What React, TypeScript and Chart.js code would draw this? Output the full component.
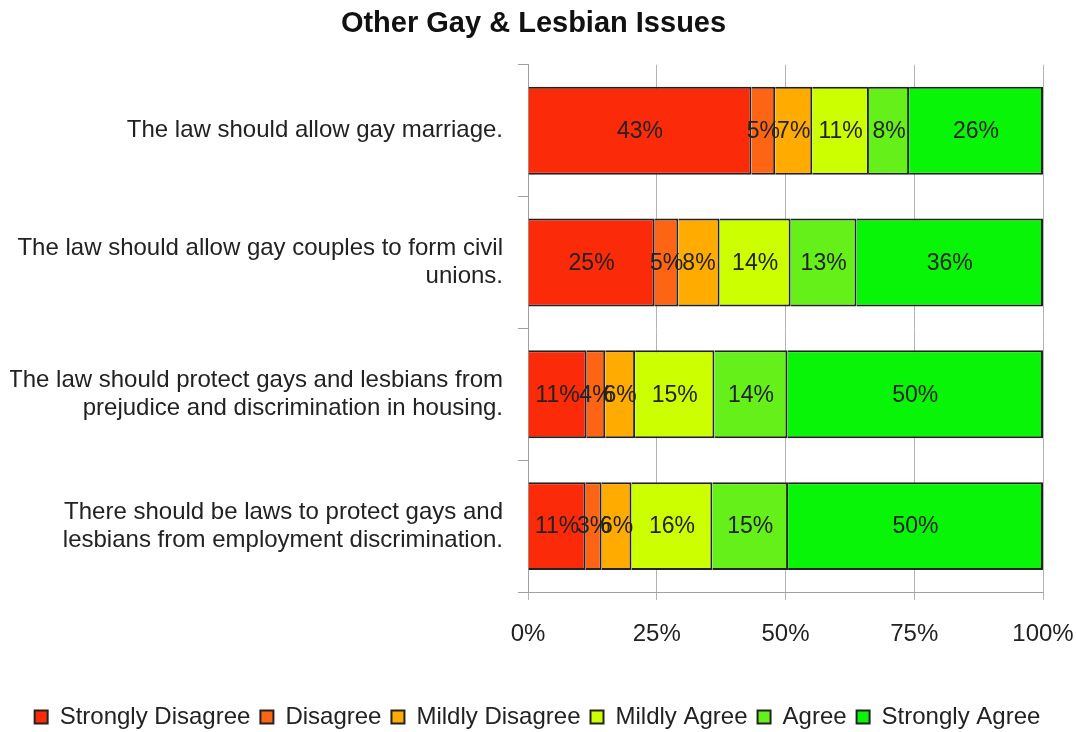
import React, { useEffect, useRef } from "react";
import { Chart, registerables } from "chart.js";

Chart.register(...registerables);

const titleText = "Other Gay & Lesbian Issues";

const categories: (string | string[])[] = [
  "The law should allow gay marriage.",
  ["The law should allow gay couples to form civil", "unions."],
  ["The law should protect gays and lesbians from", "prejudice and discrimination in housing."],
  ["There should be laws to protect gays and", "lesbians from employment discrimination."],
];

const seriesNames = [
  "Strongly Disagree",
  "Disagree",
  "Mildly Disagree",
  "Mildly Agree",
  "Agree",
  "Strongly Agree",
];

const stronglyDisagree = [43.4, 24.6, 11.4, 11.2];
const disagree = [4.6, 4.6, 3.6, 3.1];
const mildlyDisagree = [7.2, 8.0, 5.8, 5.8];
const mildlyAgree = [11.0, 13.8, 15.4, 15.7];
const agree = [7.8, 12.8, 14.2, 14.7];
const stronglyAgree = [26.0, 36.2, 49.6, 49.5];

const seriesValues = [stronglyDisagree, disagree, mildlyDisagree, mildlyAgree, agree, stronglyAgree];
const seriesColors = ["#fb2a08", "#fd6414", "#ffab00", "#ccff00", "#66f01a", "#08f508"];

const xTicks = [0, 25, 50, 75, 100];

const FONT = "'Liberation Sans', Arial, Helvetica, sans-serif";

const valueLabelPlugin = {
  id: "valueLabels",
  afterDatasetsDraw(chart: any) {
    const ctx = chart.ctx;
    ctx.save();
    ctx.font = `23px ${FONT}`;
    ctx.fillStyle = "#222";
    ctx.textAlign = "center";
    ctx.textBaseline = "middle";
    chart.data.datasets.forEach((ds: any, di: number) => {
      const meta = chart.getDatasetMeta(di);
      meta.data.forEach((bar: any, i: number) => {
        const v = ds.data[i];
        const cx = (bar.x + bar.base) / 2;
        ctx.fillText(Math.round(v) + "%", cx, bar.y + 1);
      });
    });
    ctx.restore();
  },
};

// nudges the centred title and legend to sit where they do in the reference
const boxShiftPlugin = {
  id: "boxShift",
  afterLayout(chart: any) {
    const lg = chart.legend;
    if (lg) {
      lg.left += 11;
      lg.right += 11;
    }
    const tt = chart.titleBlock;
    if (tt) {
      tt.left += 7;
      tt.right += 7;
    }
  },
};

export default function App() {
  const canvasRef = useRef<HTMLCanvasElement>(null);

  useEffect(() => {
    if (!canvasRef.current) return;
    Chart.defaults.font.family = FONT;
    Chart.defaults.color = "#222";
    const chart = new Chart(canvasRef.current, {
      type: "bar",
      data: {
        labels: categories,
        datasets: seriesNames.map((name, i) => ({
          label: name,
          data: seriesValues[i],
          backgroundColor: seriesColors[i],
          borderColor: "#222",
          borderWidth: 2,
          barPercentage: 0.667,
          categoryPercentage: 1,
        })),
      },
      options: {
        indexAxis: "y",
        responsive: false,
        animation: false,
        layout: { padding: { left: 10, right: 33, top: 0, bottom: -7 } },
        plugins: {
          title: {
            display: true,
            text: titleText,
            font: { size: 29, weight: "bold", family: FONT },
            color: "#111",
            padding: { top: 7, bottom: 23 },
          },
          legend: {
            position: "bottom",
            labels: {
              font: { size: 24, family: FONT },
              boxWidth: 13,
              boxHeight: 13,
              padding: 10,
              color: "#222",
            },
          },
          tooltip: { enabled: false },
        },
        scales: {
          x: {
            stacked: true,
            min: 0,
            max: 100,
            afterBuildTicks(scale: any) {
              scale.ticks = xTicks.map((v) => ({ value: v }));
            },
            ticks: {
              callback: (v: any) => v + "%",
              font: { size: 24, family: FONT },
              color: "#222",
              padding: 20,
              maxRotation: 0,
            },
            grid: { color: "#b4b4b4", lineWidth: 1, tickLength: 8 },
            border: { display: true, color: "#a0a0a0" },
            afterFit(scale: any) {
              scale.height = 103;
              scale.paddingLeft = 0;
              scale.paddingRight = 0;
            },
          },
          y: {
            stacked: true,
            ticks: {
              font: { size: 24, family: FONT, lineHeight: 1.15 },
              color: "#222",
              padding: 15,
              crossAlign: "near",
            },
            grid: { drawOnChartArea: false, drawTicks: true, tickLength: 10, color: "#a0a0a0" },
            border: { display: true, color: "#a0a0a0" },
            afterFit(scale: any) {
              scale.width = 518;
            },
          },
        },
      },
      plugins: [valueLabelPlugin, boxShiftPlugin],
    } as any);
    return () => chart.destroy();
  }, []);

  return (
    <div style={{ position: "absolute", left: 0, top: 0, width: 1076, height: 732, background: "#fff" }}>
      <canvas ref={canvasRef} width={1076} height={732} />
    </div>
  );
}
